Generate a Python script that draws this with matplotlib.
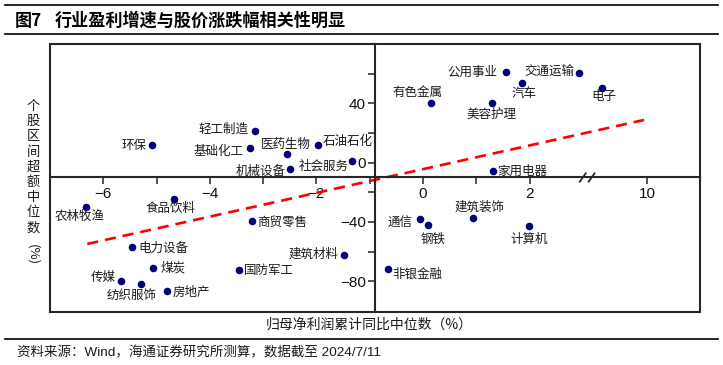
import numpy as np
import matplotlib
matplotlib.use("Agg")
import matplotlib.pyplot as plt
from matplotlib.patches import Rectangle
from matplotlib.lines import Line2D

plt.rcParams['font.family'] = ['Noto Sans CJK SC', 'DejaVu Sans']
plt.rcParams['axes.unicode_minus'] = True
plt.rcParams['lines.scale_dashes'] = False

# ---------------- data ----------------
industries = ["环保", "轻工制造", "基础化工", "医药生物", "石油石化", "社会服务", "机械设备",
              "家用电器", "有色金属", "美容护理", "公用事业", "汽车", "交通运输", "电子",
              "农林牧渔", "食品饮料", "商贸零售", "电力设备", "建筑材料", "煤炭", "国防军工",
              "传媒", "纺织服饰", "房地产", "通信", "钢铁", "建筑装饰", "计算机", "非银金融"]
profit_growth = [-5.09, -3.16, -3.25, -2.56, -1.97, -1.33, -2.49,
                 1.32, 0.16, 1.29, 1.55, 1.85, 2.93, 5.1,
                 -6.33, -4.68, -3.21, -5.46, -1.49, -5.07, -3.46,
                 -5.66, -5.30, -4.81, -0.06, 0.09, 0.94, 1.99, -0.66]
excess_return = [11.9, 21.4, 9.7, 5.7, 12.1, 1.1, -4.5,
                 -5.6, 40.1, 40.1, 61.0, 53.9, 60.5, 50.2,
                 -30.1, -24.7, -39.5, -56.6, -62.0, -70.8, -72.2,
                 -80.0, -81.8, -86.7, -38.2, -42.0, -37.1, -42.7, -71.5]
trend_x = [-6.3, 9.65]
trend_y = [-54.8, 28.8]
x_major = [-6, -4, -2, 0, 2, 10]
x_minor = [-5, -3, -1, 1]
y_major = [-80, -40, 0, 40]
y_minor = [-60, -20, 20, 60]

# label placement (style): ha, dx(px), dy(px)
label_pos = {
    "环保": ("right", -5, 0), "轻工制造": ("right", -6, 2), "基础化工": ("right", -6, -3.4),
    "医药生物": ("center", -1, 9.3), "石油石化": ("left", 5, 3), "社会服务": ("right", -3.5, -5.7),
    "机械设备": ("right", -5, -1.7), "家用电器": ("left", 4, 0), "有色金属": ("center", -14, 11),
    "美容护理": ("center", 0, -11), "公用事业": ("right", -8, 0), "汽车": ("center", 3, -10.6),
    "交通运输": ("right", -4.5, 1), "电子": ("center", 1.6, -8.4), "农林牧渔": ("center", -6.5, -9.4),
    "食品饮料": ("center", -2.7, -9), "商贸零售": ("left", 5, -1), "电力设备": ("left", 6, -1.6),
    "建筑材料": ("right", -5, 0), "煤炭": ("left", 7.7, 0), "国防军工": ("left", 5.3, -0.3),
    "传媒": ("right", -6, 4), "纺织服饰": ("center", -8.8, -11.7), "房地产": ("left", 6, -1.4),
    "通信": ("right", -7.6, -4), "钢铁": ("center", 5, -14), "建筑装饰": ("center", 6.5, 10.4),
    "计算机": ("center", 0, -13), "非银金融": ("left", 4.4, -5.3),
}

# broken x-axis: beyond B the axis is compressed
B = 3.0
K = 1.21 / 7.0


def fwd(x):
    x = np.asarray(x, dtype=float)
    return np.where(x <= B, x, B + (x - B) * K)


def inv(d):
    d = np.asarray(d, dtype=float)
    return np.where(d <= B, d, B + (d - B) / K)


W, H = 723, 365
fig = plt.figure(figsize=(W / 100, H / 100), dpi=100)
ax = fig.add_axes([50 / W, 1 - 312 / H, 650 / W, 268 / H])
ax.set_xscale('function', functions=(fwd, inv))
ax.set_xlim(-7, float(inv(5.2)))
ax.set_ylim(-100.7, 80)

frame_c = '#262626'
for s in ['top', 'right']:
    ax.spines[s].set_visible(False)
ax.spines['left'].set_position(('data', -0.9))
ax.spines['bottom'].set_position(('data', -10))
for s in ['left', 'bottom']:
    ax.spines[s].set_linewidth(1.5)
    ax.spines[s].set_color(frame_c)
ax.add_patch(Rectangle((0, 0), 1, 1, transform=ax.transAxes, fill=False,
                       lw=1.5, ec=frame_c, clip_on=False, zorder=5))

ax.set_xticks(x_major)
ax.set_xticks(x_minor, minor=True)
ax.set_xticklabels([f"{v}".replace('-', '\u2212') for v in x_major])
ax.set_yticks(y_major)
ax.set_yticks(y_minor, minor=True)
ax.set_yticklabels([f"{v}".replace('-', '\u2212') for v in y_major])
ax.tick_params(which='both', direction='out', length=5, width=1.1, color=frame_c)
ax.tick_params(axis='x', which='major', pad=1.5)
ax.tick_params(axis='y', which='major', pad=1.5)
for lab in ax.get_xticklabels() + ax.get_yticklabels():
    lab.set_family(['Liberation Sans', 'DejaVu Sans'])
    lab.set_fontsize(11)
    lab.set_color('#111111')

# trend line
ax.plot(trend_x, trend_y, color='#FF0000', lw=1.9, dashes=(8, 5), zorder=2)

# scatter points
ax.scatter(profit_growth, excess_return, s=30, color='#00007F', zorder=4, linewidths=0)

for name, xv, yv in zip(industries, profit_growth, excess_return):
    ha, dx, dy = label_pos[name]
    ax.annotate(name, (xv, yv), xytext=(dx, dy), textcoords='offset pixels',
                ha=ha, va='center', fontsize=9, color='#1a1a1a', zorder=6)

# axis break marks "//"
for dc in [3.0, 3.165]:
    xs = inv([dc - 0.055, dc + 0.055])
    ax.add_line(Line2D(xs, [-12.8, -7.2], color=frame_c, lw=1.3, clip_on=False, zorder=6))

# y label (vertical stacked)
ychars = list("个股区间超额中位数")
for i, ch in enumerate(ychars):
    fig.text(33 / W, 1 - (106.5 + i * 15.2) / H, ch, ha='center', va='center', fontsize=9.5,
             color='#1a1a1a')
fig.text(33 / W, 1 - 255 / H, "(%)", ha='center', va='center', rotation=-90, fontsize=9.5,
         color='#1a1a1a')

# x label
fig.text(369 / W, 1 - 325 / H, "归母净利润累计同比中位数（%）", ha='center', va='center',
         fontsize=10, color='#1a1a1a')

# title and rules
fig.add_artist(Line2D([5 / W, 718 / W], [1 - 5 / H, 1 - 5 / H], color='black', lw=1.2))
fig.add_artist(Line2D([5 / W, 718 / W], [1 - 34 / H, 1 - 34 / H], color='black', lw=1.2))
fig.add_artist(Line2D([5 / W, 718 / W], [1 - 339 / H, 1 - 339 / H], color='black', lw=1.2))
fig.text(15 / W, 1 - 21 / H, "图7", ha='left', va='center', fontsize=12.3, fontweight='bold',
         family=['Noto Sans CJK SC', 'DejaVu Sans'])
fig.text(55 / W, 1 - 21 / H, "行业盈利增速与股价涨跌幅相关性明显", ha='left', va='center',
         fontsize=12.3, fontweight='bold')

fig.text(17 / W, 1 - 353 / H, "资料来源：Wind，海通证券研究所测算，数据截至 2024/7/11",
         ha='left', va='center', fontsize=9.7, color='#1a1a1a',
         family=['Liberation Sans', 'Noto Sans CJK SC', 'DejaVu Sans'])

fig.savefig("out.png", dpi=100)
